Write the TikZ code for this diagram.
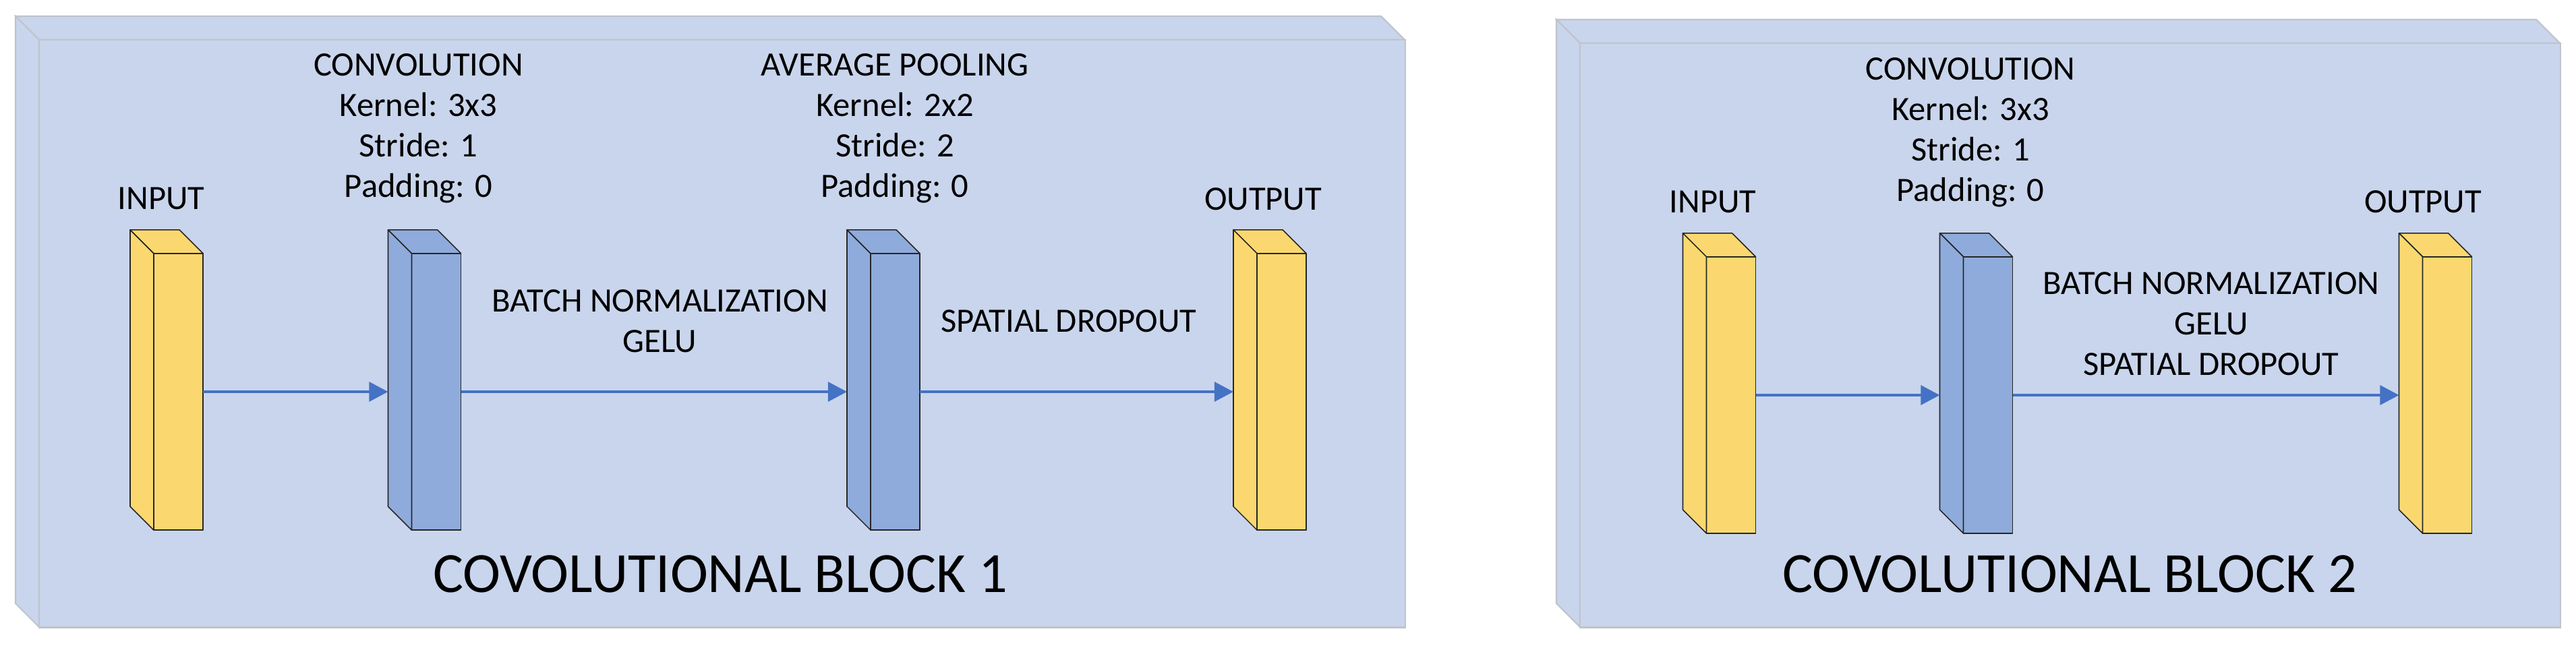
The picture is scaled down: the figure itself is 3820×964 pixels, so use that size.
\documentclass[tikz,border=0pt]{standalone}
\usepackage{fontspec}
\setmainfont{Carlito}
\usetikzlibrary{arrows.meta,calc}
\definecolor{panelfill}{HTML}{C9D5EC}
\definecolor{paneledge}{HTML}{BFC4CC}
\definecolor{layerblue}{HTML}{8FABDB}
\definecolor{layeryellow}{HTML}{FBD86F}
\definecolor{arrowblue}{HTML}{4472C4}
\tikzset{
  panelface/.style={fill=panelfill, draw=paneledge, line width=0.6pt, line join=miter},
  panelfront/.style={panelface, rectangle, inner sep=0pt, outer sep=0pt, anchor=north west},
  layerface/.style={draw=black!85, line width=0.45pt, line join=round},
  layerfront/.style={layerface, rectangle, minimum width=0.73cm, minimum height=4.1cm, inner sep=0pt, outer sep=0pt},
  flow/.style={draw=arrowblue, line width=1.05pt, -{Triangle[length=8pt,width=8.2pt]}},
  lbl/.style={font=\fontsize{14.4pt}{17.07pt}\selectfont, align=center, inner sep=0pt, anchor=base},
  ttl/.style={font=\fontsize{24pt}{28pt}\selectfont, inner sep=0pt, anchor=base},
}
% #1 name, #2 x centre, #3 y centre, #4 colour
\newcommand\drawlayer[4]{%
  \node[layerfront, fill=#4] (#1) at (#2,#3) {};
  \path[layerface, fill=#4] (#1.north west) -- ++(-35,-35) -- ($(#1.north east)+(-35,-35)$) -- (#1.north east) -- cycle;
  \path[layerface, fill=#4] (#1.north west) -- ++(-35,-35) -- ($(#1.south west)+(-35,-35)$) -- (#1.south west) -- cycle;
  \draw[layerface] (#1.north west) rectangle (#1.south east);
  \coordinate (#1back) at ($(#1.west)+(-35,0)$);
}
\begin{document}
\begin{tikzpicture}[x=0.01cm, y=-0.01cm]
\useasboundingbox (0,0) rectangle (3820,964);
\fill[white] (0,0) rectangle (3820,964);

% ---------- block 1 ----------
\path[panelface] (23,24) -- (2048,24) -- (2083,59) -- (58,59) -- cycle;
\path[panelface] (23,24) -- (58,59) -- (58,930) -- (23,895) -- cycle;
\node[panelfront, minimum width=20.25cm, minimum height=8.71cm] (block1) at (58,59) {};

\drawlayer{in1}{264.5}{581}{layeryellow}
\drawlayer{conv1}{647}{581}{layerblue}
\drawlayer{pool1}{1327.5}{581}{layerblue}
\drawlayer{out1}{1900.5}{581}{layeryellow}

\draw[flow] (in1.east) -- (conv1back);
\draw[flow] (conv1.east) -- (pool1back);
\draw[flow] (pool1.east) -- (out1back);

% multi-line labels: anchor=base is the baseline of the last line
\node[lbl] (inlbl1) at (239,311) {INPUT};
\node[lbl] (outlbl1) at (1873,311.5) {OUTPUT};
\node[lbl] (convlbl1) at (620.5,293) {CONVOLUTION\\Kernel: 3x3\\Stride: 1\\Padding: 0};
\node[lbl] (poollbl1) at (1327,293) {AVERAGE POOLING\\Kernel: 2x2\\Stride: 2\\Padding: 0};
\node[lbl] (bnlbl1) at (978.5,523) {BATCH NORMALIZATION\\GELU};
\node[lbl] (sdlbl1) at (1585,493) {SPATIAL DROPOUT};
\node[ttl] (title1) at (1068,878.5) {COVOLUTIONAL BLOCK 1};

% ---------- block 2 ----------
\path[panelface] (2308,29) -- (3761,29) -- (3796,64) -- (2343,64) -- cycle;
\path[panelface] (2308,29) -- (2343,64) -- (2343,930) -- (2308,895) -- cycle;
\node[panelfront, minimum width=14.53cm, minimum height=8.66cm] (block2) at (2343,64) {};

\drawlayer{in2}{2567}{586}{layeryellow}
\drawlayer{conv2}{2948}{586}{layerblue}
\drawlayer{out2}{3629}{586}{layeryellow}

\draw[flow] (in2.east) -- (conv2back);
\draw[flow] (conv2.east) -- (out2back);

\node[lbl] (inlbl2) at (2540,316) {INPUT};
\node[lbl] (outlbl2) at (3593,316) {OUTPUT};
\node[lbl] (convlbl2) at (2922,299) {CONVOLUTION\\Kernel: 3x3\\Stride: 1\\Padding: 0};
\node[lbl] (oplbl2) at (3279,557) {BATCH NORMALIZATION\\GELU\\SPATIAL DROPOUT};
\node[ttl] (title2) at (3069,878) {COVOLUTIONAL BLOCK 2};
\end{tikzpicture}
\end{document}
